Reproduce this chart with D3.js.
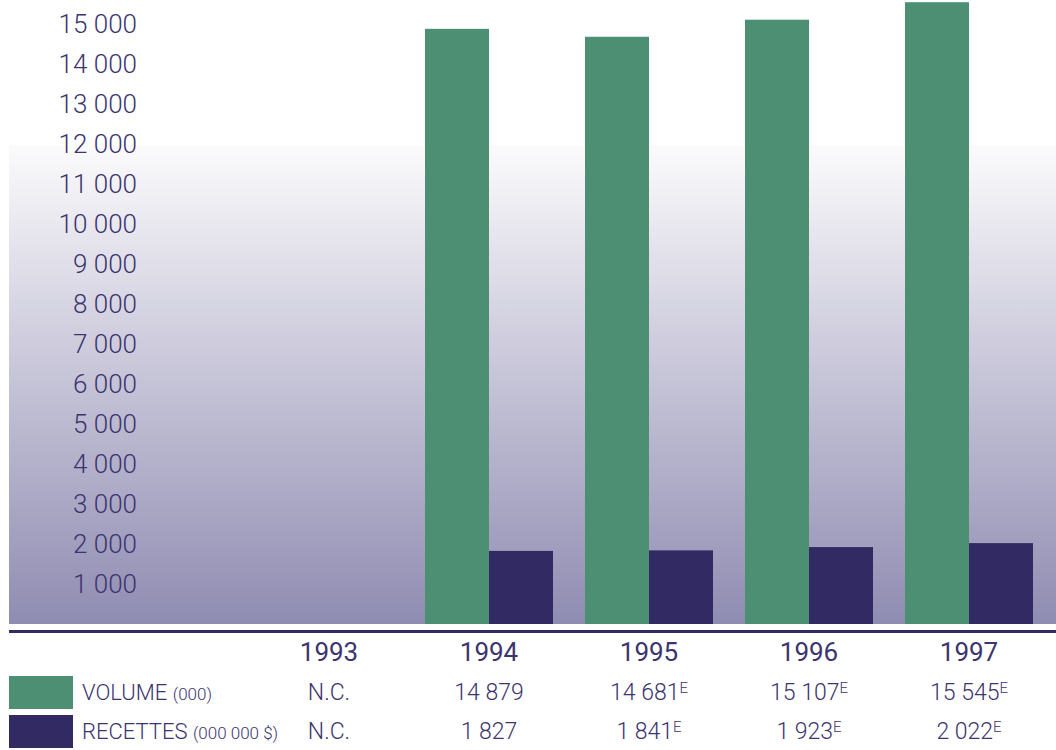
<!DOCTYPE html>
<html>
<head>
<meta charset="utf-8">
<script src="https://cdn.jsdelivr.net/npm/d3@7"></script>
<style>
  body { margin: 0; background: #fff; }
  svg { display: block; font-family: Roboto, "Open Sans", sans-serif; }
</style>
</head>
<body>
<div id="chart"></div>
<script>
const years = ["1993", "1994", "1995", "1996", "1997"]
const volume = [null, 14879, 14681, 15107, 15545]
const recettes = [null, 1827, 1841, 1923, 2022]
const estimated = [false, false, true, true, true]
const yTicks = [1000, 2000, 3000, 4000, 5000, 6000, 7000, 8000, 9000, 10000, 11000, 12000, 13000, 14000, 15000]
const seriesNames = ["VOLUME", "RECETTES"]
const seriesUnits = ["(000)", "(000 000 $)"]

const width = 1056, height = 750
const textColor = "#3b346f"
const green = "#4c8f73", navy = "#322a63"

const svg = d3.select("#chart").append("svg")
    .attr("width", width)
    .attr("height", height)

const x = d3.scaleBand()
    .domain(years)
    .range([249, 1049])
    .paddingInner(0.2)
    .paddingOuter(0.1)
const xSub = d3.scaleBand()
    .domain(seriesNames)
    .range([0, x.bandwidth()])
const y = d3.scaleLinear()
    .domain([0, 15600])
    .range([624, 0])

const fmt = v => d3.format(",")(v).replace(/,/g, " ")

// background gradient panel
const grad = svg.append("defs").append("linearGradient")
    .attr("id", "bg").attr("x1", 0).attr("y1", 0).attr("x2", 0).attr("y2", 1)
grad.append("stop").attr("offset", 0).attr("stop-color", "#fbfbfc")
grad.append("stop").attr("offset", 0.45).attr("stop-color", "#cac8da")
grad.append("stop").attr("offset", 1).attr("stop-color", "#8f8cb2")

svg.append("rect")
    .attr("x", 9).attr("y", 145)
    .attr("width", width - 9).attr("height", 624 - 145)
    .attr("fill", "url(#bg)")

// y tick labels
svg.append("g").selectAll("text")
    .data(yTicks)
    .join("text")
    .attr("x", 137)
    .attr("y", d => y(d))
    .attr("dy", "0.35em")
    .attr("text-anchor", "end")
    .attr("font-size", 26)
    .attr("font-weight", 300)
    .attr("fill", textColor)
    .text(fmt)

// bars
const groups = svg.append("g").selectAll("g")
    .data(years)
    .join("g")
    .attr("transform", d => `translate(${x(d)},0)`)

groups.selectAll("rect")
    .data((d, i) => [
        {s: "VOLUME", v: volume[i], c: green},
        {s: "RECETTES", v: recettes[i], c: navy}
    ].filter(e => e.v != null))
    .join("rect")
    .attr("x", d => xSub(d.s))
    .attr("width", xSub.bandwidth())
    .attr("y", d => y(d.v))
    .attr("height", d => y(0) - y(d.v))
    .attr("fill", d => d.c)

// separator line
svg.append("rect")
    .attr("x", 9).attr("y", 630)
    .attr("width", width - 9).attr("height", 3)
    .attr("fill", navy)

// year row
svg.append("g").selectAll("text")
    .data(years)
    .join("text")
    .attr("x", d => x(d) + x.bandwidth() / 2)
    .attr("y", 652)
    .attr("dy", "0.35em")
    .attr("text-anchor", "middle")
    .attr("font-size", 26)
    .attr("font-weight", 400)
    .attr("fill", textColor)
    .text(d => d)

// legend swatches + table rows
const rowsY = [692, 731]
const rowData = [volume, recettes]
const rowColors = [green, navy]

seriesNames.forEach((name, r) => {
    svg.append("rect")
        .attr("x", 9).attr("y", rowsY[r] - 16)
        .attr("width", 64).attr("height", 33)
        .attr("fill", rowColors[r])

    const lab = svg.append("text")
        .attr("x", 82).attr("y", rowsY[r])
        .attr("dy", "0.35em")
        .attr("fill", textColor)
        .attr("font-size", 22)
        .attr("font-weight", 300)
    lab.append("tspan").text(name + " ")
    lab.append("tspan").attr("font-size", 17).text(seriesUnits[r])

    const cells = svg.append("g").selectAll("text")
        .data(years)
        .join("text")
        .attr("x", d => x(d) + x.bandwidth() / 2)
        .attr("y", rowsY[r])
        .attr("dy", "0.35em")
        .attr("text-anchor", "middle")
        .attr("font-size", 23)
        .attr("font-weight", 300)
        .attr("fill", textColor)
    cells.append("tspan")
        .text((d, i) => rowData[r][i] == null ? "N.C." : fmt(rowData[r][i]))
    cells.append("tspan")
        .attr("font-size", 15)
        .attr("dy", "-0.5em")
        .text((d, i) => estimated[i] ? "E" : "")
})
</script>
</body>
</html>
